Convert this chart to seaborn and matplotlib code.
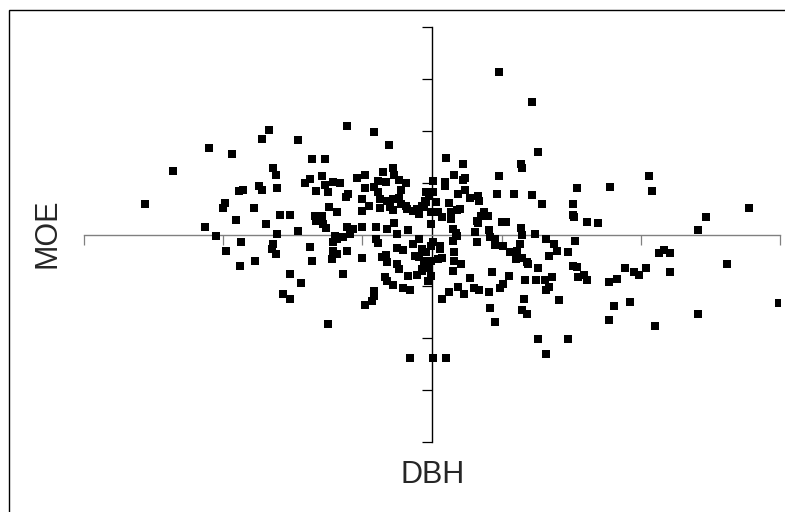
import numpy as np
import pandas as pd
import matplotlib
matplotlib.use("Agg")
import matplotlib.pyplot as plt
from matplotlib.patches import Rectangle
import seaborn as sns

# ---------- Data (standardised DBH / MOE) ----------
dbh = [
    -2.06, -1.86, -1.60, -1.44, -1.22, -1.17, -0.96, -0.61, -0.42, -0.31,
    -0.86, -0.77, -1.14, -1.12, -1.11, -1.24, -1.22, -1.39, -1.36, -1.49,
    -1.50, -1.28, -1.41, -1.63, -1.19, -1.09, -1.02, -1.11, -0.96, -1.55,
    -1.37, -0.91, -0.88, -0.79, -0.77, -0.83, -0.75, -0.71, -0.66, -0.74,
    -0.68, -0.84, -0.83, -0.79, -0.78, -0.76, -0.62, -0.60, -0.54, -0.48,
    -0.50, -0.50, -0.42, -0.39, -0.33, -0.35, -0.28, -0.27, -0.24, -0.19,
    -0.22, -0.45, -0.40, -0.32, -0.27, -0.25, -0.17, -0.61, -0.57, -0.50,
    -0.59, -0.64, -0.68, -0.01, -0.48, -0.39, -0.37, -0.32, -0.28, -0.24,
    -0.22, -0.19, -0.37, -0.30, -0.28, -0.18, -0.14, -0.11, -0.07, -0.04,
    -0.02, 0.01, 0.01, -0.09, -0.01,
    -1.48, -1.38, -1.27, -1.14, -1.15, -1.12, -0.88, -0.86, -1.02, -0.94,
    -1.07, -1.02, -0.75, -0.72, -0.71, -0.71, -0.68, -0.64, -0.61, -0.50,
    -0.42, -0.42, -0.43, -0.48, -0.34, -0.32, -0.28, -0.21, -0.16, -0.40,
    -0.39, -0.36, -0.33, -0.32, -0.25, -0.24, -0.25, -0.21, -0.12, -0.14,
    -0.09, -0.07, -0.04, -0.01, 0.01, -0.17, -0.11, -0.07, -0.03, -0.01,
    -0.06, -0.16, 0.01, -0.70, -0.09, 0.04, -0.03,
    0.48, 0.72, 0.76, 0.10, 0.22, 0.64, 0.65, 0.48, 0.09, 0.09,
    0.16, 0.22, 0.24, 1.04, 1.28, 1.56, 1.58, 0.47, 0.59, 0.72,
    0.79, 1.01, 1.01, 1.02, 1.11, 1.19, 2.28, 1.97, 1.91, 0.24,
    0.19, 0.27, 0.33, 0.34, 0.12, -0.04, -0.05, 0.03, -0.06, 0.04,
    0.07, 0.14, 0.18, 0.20, 0.14, 0.32, 0.35, 0.37, 0.40, 0.33,
    0.50, 0.53, 0.15, 0.17, 0.31, 0.41, 0.64, 0.74,
    0.10, 0.76, 0.98, 0.82, 0.45, 0.42, 0.66, 0.65, 0.68, 0.91,
    1.27, 1.31, 1.42, 1.60, 1.91, 2.49, 2.12, 1.63, 1.67, 1.71,
    1.71, 1.39, 1.45, 1.49, 1.54, 1.27, 1.33, 1.03, 0.98, 1.01,
    1.04, 1.05, 1.09, 1.11, 0.82, 0.88, 0.90, 0.84, 0.76, 0.69,
    0.67, 0.75, 0.81, 0.86, 0.84, 0.82, 0.55, 0.51, 0.49, 0.41,
    0.43, 0.27, 0.30, 0.34, 0.23, 0.19, 0.12, 0.07, 0.15, 0.21,
    0.16, 0.16, 0.07, -0.07, 0.06, 0.61, 0.60, 0.65, 0.56, 0.51,
    0.42, 0.45, 0.45, 0.32, 0.18, 0.15, 0.65, 0.68, 0.06, -0.01,
    0.63,
]
moe = [
    0.59, 1.22, 1.66, 1.55, 1.84, 2.01, 1.82, 2.09, 1.97, 1.72,
    1.45, 1.45, 1.28, 1.14, 0.89, 0.93, 0.86, 0.84, 0.86, 0.61,
    0.51, 0.51, 0.28, 0.14, 0.20, 0.38, 0.38, 0.01, 0.07, -0.03,
    -0.14, 0.99, 1.07, 1.13, 0.95, 0.84, 0.82, 1.01, 0.99, 0.53,
    0.43, 0.36, 0.26, 0.36, 0.20, 0.13, 0.72, 0.78, 1.09, 1.14,
    0.68, 0.45, 0.91, 1.03, 1.01, 1.20, 1.28, 1.14, 1.05, 0.99,
    0.86, 0.55, 0.14, 0.11, 0.22, 0.01, 0.09, 0.14, 0.11, 0.14,
    0.01, -0.05, -0.09, 0.20, 0.89, 0.82, 0.68, 0.64, 0.68, 0.70,
    0.59, 0.55, 0.51, 0.53, 0.47, 0.49, 0.45, 0.49, 0.55, 0.63,
    0.74, 0.82, 1.03, 0.39, 0.43,
    -0.32, -0.61, -0.51, -0.18, -0.28, -0.38, -0.24, -0.51, -0.76, -0.93,
    -1.14, -1.24, -1.72, -0.47, -0.14, -0.32, -0.38, -0.76, -0.32, -0.45,
    -1.09, -1.18, -1.28, -1.36, -0.82, -0.89, -0.97, -1.03, -1.07, -0.09,
    -0.16, -0.43, -0.39, -0.53, -0.57, -0.66, -0.26, -0.30, -0.41, -0.18,
    -0.09, -0.28, -0.34, -0.22, -0.14, -0.80, -0.78, -0.70, -0.64, -0.80,
    -0.51, -2.39, -2.38, -0.03, -0.43, -0.47, -0.89,
    3.13, 2.55, 1.59, 1.47, 1.36, 1.36, 1.28, 1.13, 1.01, 0.93,
    1.14, 1.05, 1.09, 0.89, 0.91, 1.13, 0.84, 0.78, 0.78, 0.76,
    0.59, 0.59, 0.38, 0.34, 0.24, 0.22, 0.51, 0.34, 0.09, 0.86,
    0.78, 0.70, 0.74, 0.64, 0.61, 0.82, 0.64, 0.63, 0.53, 0.43,
    0.34, 0.43, 0.47, 0.49, 0.30, 0.26, 0.36, 0.43, 0.36, 0.22,
    0.24, 0.24, 0.11, 0.03, 0.05, 0.09, 0.13, 0.01,
    -2.39, -2.01, -2.01, -2.30, -1.68, -1.41, -1.24, -1.45, -1.53, -1.26,
    -1.64, -1.38, -1.30, -1.76, -1.53, -1.32, -0.57, -0.36, -0.30, -0.36,
    -0.72, -0.64, -0.72, -0.78, -0.64, -0.91, -0.86, -0.13, -0.34, -0.61,
    -0.63, -0.82, -0.78, -0.88, -0.09, -0.18, -0.32, -0.41, -0.64, -0.57,
    -0.88, -0.88, -0.88, -0.82, -1.01, -1.07, -0.80, -0.95, -1.03, -1.11,
    -0.72, -0.84, -1.03, -1.07, -1.14, -1.01, -1.11, -1.24, -0.70, -0.57,
    -0.51, -0.34, -0.45, -0.66, -0.22, -0.32, -0.47, -0.45, -0.34, -0.22,
    -0.05, -0.09, -0.20, -0.14, -0.03, -0.13, -0.01, -0.53, -0.28, -0.51,
    -0.18,
]
x_ticks = [-2.5, -1.5, -0.5, 0.5, 1.5, 2.5]
y_ticks = [-4, -3, -2, -1, 1, 2, 3, 4]

assert len(dbh) == len(moe)
df = pd.DataFrame({"DBH": dbh, "MOE": moe})

# ---------- Plot ----------
sns.set_style("white")
plt.rcParams["font.family"] = ["Liberation Sans", "DejaVu Sans"]

fig = plt.figure(figsize=(7.85, 5.12), dpi=100)
ax = fig.add_axes([84 / 785, 70 / 512, 696 / 785, 415 / 512])

sns.scatterplot(data=df, x="DBH", y="MOE", marker="s", s=36, color="black",
                linewidth=0, ax=ax, zorder=3, legend=False)

ax.set_xlim(-2.5, 2.5)
ax.set_ylim(-4, 4)
ax.set_xticks(x_ticks)
ax.set_yticks(y_ticks)
ax.set_xticklabels([])
ax.set_yticklabels([])
ax.set_xlabel("")
ax.set_ylabel("")

# axes crossing at the origin
ax.spines["left"].set_position(("data", 0))
ax.spines["bottom"].set_position(("data", 0))
ax.spines["top"].set_visible(False)
ax.spines["right"].set_visible(False)
ax.spines["left"].set_color("black")
ax.spines["left"].set_linewidth(1.0)
ax.spines["bottom"].set_color("#808080")
ax.spines["bottom"].set_linewidth(1.0)
ax.tick_params(axis="x", direction="out", length=7, width=0.9, color="#808080",
               bottom=True)
ax.tick_params(axis="y", direction="out", length=7, width=0.9, color="black",
               left=True)
ax.patch.set_alpha(0)

fig.text(433 / 785, 1 - 483 / 512, "DBH", ha="center", va="baseline",
         fontsize=22)
fig.text(48 / 785, 1 - 233 / 512, "MOE", ha="center", va="center",
         rotation=90, fontsize=22)

# frame around the chart area
fig.patches.append(Rectangle((8.5 / 785, -0.1), 2, 1 - 10 / 512 + 0.1,
                             transform=fig.transFigure, fill=False,
                             edgecolor="black", linewidth=1.0))

fig.savefig("out.png", dpi=100)
